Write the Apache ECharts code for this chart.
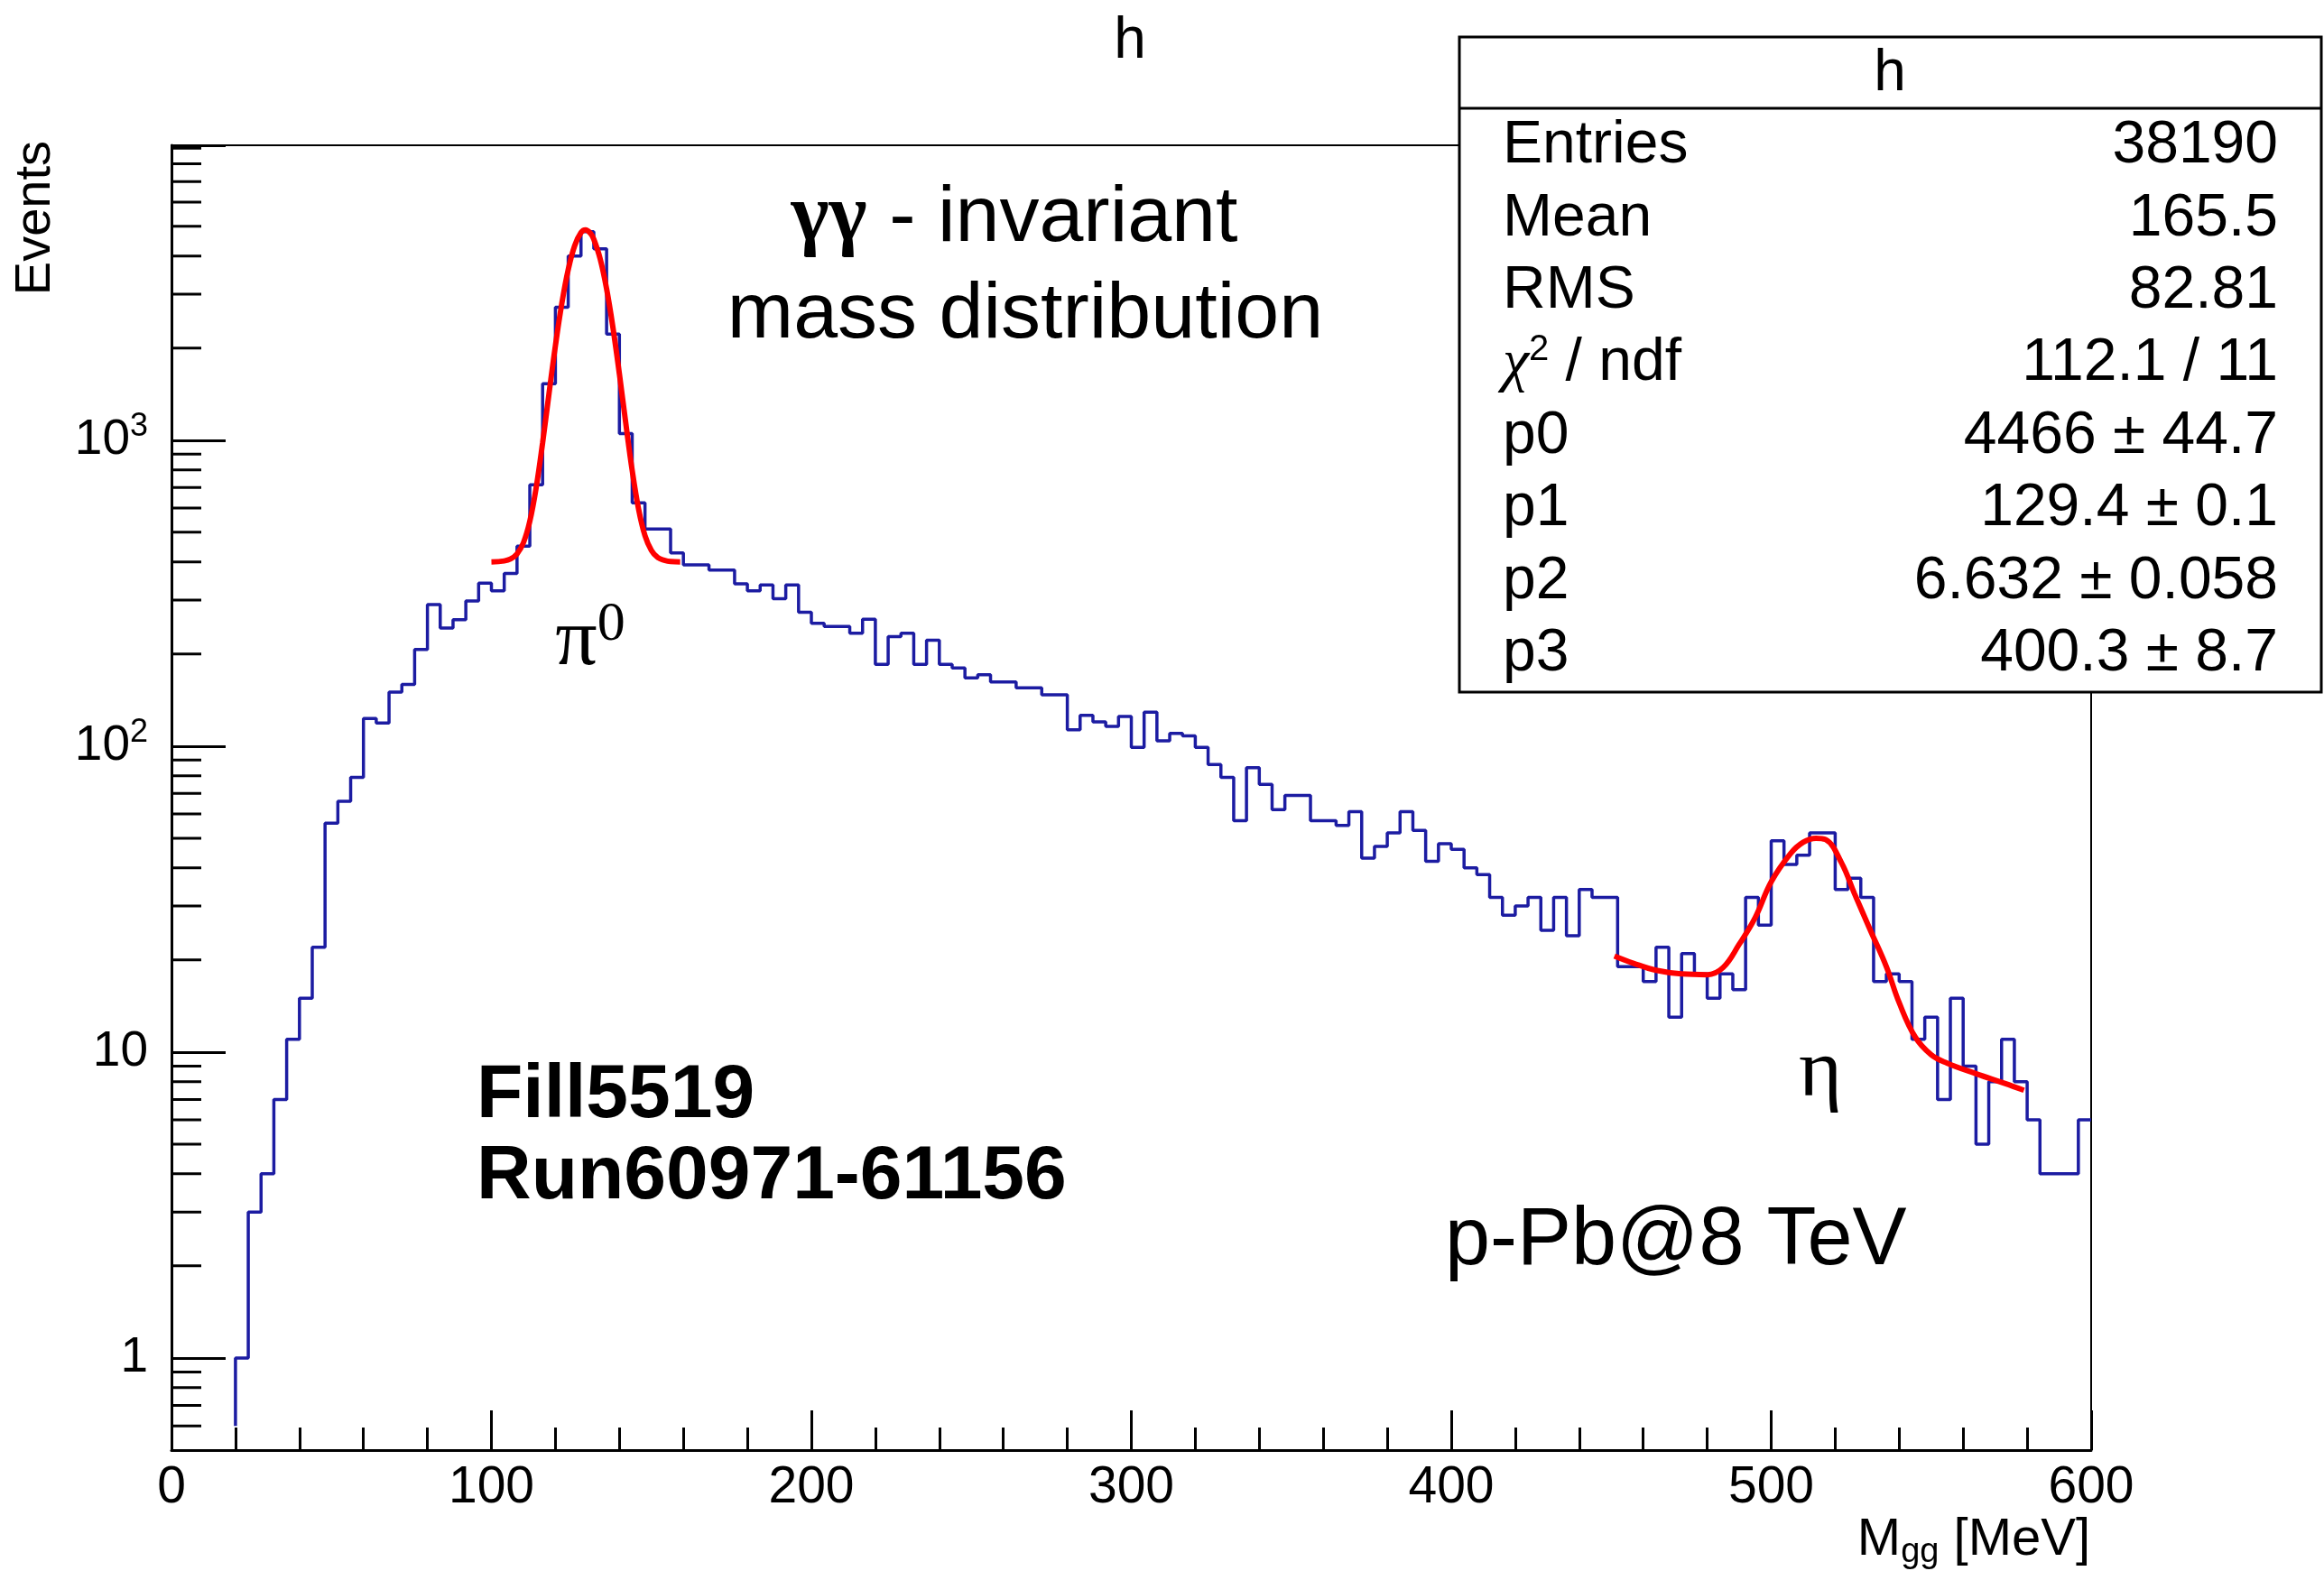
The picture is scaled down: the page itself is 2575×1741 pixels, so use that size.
<!DOCTYPE html>
<html>
<head>
<meta charset="utf-8">
<title>h</title>
<script src="https://cdn.jsdelivr.net/npm/echarts@6/dist/echarts.min.js"></script>
<style>
  html, body { margin: 0; padding: 0; background: #fff; }
  #chart { width: 2575px; height: 1741px; }
</style>
</head>
<body>
<div id="chart"></div>
<script>
// histogram h : 4 MeV bins, first filled bin starts at 20 MeV
var binStart = 20;
var binWidth = 4;
var counts = [
  1, 3, 4, 7, 11, 15, 22, 56, 66, 79, 123, 119, 150, 159, 207, 290, 243, 259, 298, 341,
  322, 367, 450, 715, 1530, 2720, 4000, 4800, 4220, 2220, 1050, 624, 512, 512, 428, 391, 391, 376, 376, 339, 322, 336, 303, 336, 274,
  252, 246, 246, 234, 260, 185, 228, 234, 185, 222, 185, 180, 167, 171, 162, 162, 155, 155, 147, 147, 113, 126, 120, 116, 125,
  99, 129, 104, 110, 108, 99, 87, 79, 57, 85, 75, 62, 69, 69, 57, 57, 55, 61, 43, 47, 52, 61, 53, 42, 48,
  46, 40, 38, 32, 28, 30, 32, 25, 32, 24, 34, 32, 32, 19, 19, 17, 22, 13, 21, 18, 15, 18, 16, 32, 26,
  49, 41, 44, 52, 52, 34, 37, 32, 17, 18, 17, 11, 13, 7, 15, 9, 5, 8, 11, 8, 6, 4, 4, 4, 6
];
var histFloor = 0.6;

// fitted curves (red)
var pi0FitX = [100, 104, 106, 108, 110, 112, 114, 116, 118, 120, 122, 124, 126, 128, 129.4, 131, 132, 134, 136, 138, 140, 142, 144, 146, 148, 150, 152, 154, 156, 159];
var pi0FitY = [400, 403, 409, 425, 462, 543, 701, 980, 1420, 2036, 2796, 3606, 4316, 4768, 4866, 4738, 4536, 3911, 3122, 2326, 1645, 1135, 796, 595, 487, 436, 413, 405, 401, 400];
var etaFitX = [451, 457, 464, 472, 480, 485, 490, 495, 500, 506, 510, 514, 517, 522, 526, 531, 536, 540, 545, 550, 555, 564, 573, 579];
var etaFitY = [20.6, 19.5, 18.5, 18.0, 17.9, 18.9, 22.5, 27.5, 36, 44.5, 48.5, 50, 49.5, 41.5, 33, 25, 19, 14.5, 11.2, 9.8, 9.2, 8.5, 7.9, 7.5];

// minor ticks of the log y axis
var yMinorTicks = [0.6, 0.7, 0.8, 0.9, 2, 3, 4, 5, 6, 7, 8, 9, 20, 30, 40, 50, 60, 70, 80, 90,
  200, 300, 400, 500, 600, 700, 800, 900, 2000, 3000, 4000, 5000, 6000, 7000, 8000, 9000];

// stats box
var statNames = ['Entries', 'Mean', 'RMS', '{c|χ}{s|2}{n| / ndf}', 'p0', 'p1', 'p2', 'p3'];
var statValues = ['38190', '165.5', '82.81', '112.1 / 11', '4466 ± 44.7', '129.4 ± 0.1', '6.632 ± 0.058', '400.3 ± 8.7'];

var SANS = 'Liberation Sans';
var SERIF = 'Liberation Serif';

var histData = [[binStart, histFloor]];
for (var i = 0; i < counts.length; i++) {
  histData.push([binStart + i * binWidth, counts[i]]);
}
histData.push([binStart + counts.length * binWidth, counts[counts.length - 1]]);

var pi0Data = pi0FitX.map(function (x, k) { return [x, pi0FitY[k]]; });
var etaData = etaFitX.map(function (x, k) { return [x, etaFitY[k]]; });
var minorData = yMinorTicks.map(function (v) { return [0, v]; });

var chart = echarts.init(document.getElementById('chart'), null, { renderer: 'canvas' });

var graphics = [];
// title
graphics.push({ type: 'text', x: 1252, y: 46, z: 50,
  style: { text: 'h', fontSize: 64, fontFamily: SANS, fill: '#000', align: 'center', verticalAlign: 'middle' } });
// y axis title
graphics.push({ type: 'text', x: 40, y: 156, rotation: Math.PI / 2, z: 50,
  style: { text: 'Events', fontSize: 56, fontFamily: SANS, fill: '#000', align: 'right', verticalAlign: 'middle' } });
// x axis title
graphics.push({ type: 'text', x: 2316, y: 1707, z: 50,
  style: { text: '{a|M}{b|gg}{a| [MeV]}', align: 'right', verticalAlign: 'middle', fill: '#000',
    rich: { a: { fontSize: 58, fontFamily: SANS }, b: { fontSize: 38, fontFamily: SANS, padding: [28, 0, 0, 0] } } } });
// annotations
graphics.push({ type: 'text', x: 1124, y: 243, z: 50,
  style: { text: '{g|γγ}{t| - invariant}', align: 'center', verticalAlign: 'middle', fill: '#000',
    rich: { g: { fontSize: 90, fontFamily: SERIF, fontWeight: 'bold' }, t: { fontSize: 88, fontFamily: SANS } } } });
graphics.push({ type: 'text', x: 1136, y: 350, z: 50,
  style: { text: 'mass distribution', fontSize: 88, fontFamily: SANS, fill: '#000', align: 'center', verticalAlign: 'middle' } });
graphics.push({ type: 'text', x: 654, y: 712, z: 50,
  style: { text: '{p|π}{s|0}', align: 'center', verticalAlign: 'middle', fill: '#000',
    rich: { p: { fontSize: 92, fontFamily: SERIF }, s: { fontSize: 62, fontFamily: SERIF, padding: [0, 0, 38, 0] } } } });
graphics.push({ type: 'text', x: 2017, y: 1190, z: 50,
  style: { text: 'η', fontSize: 92, fontFamily: SERIF, fill: '#000', align: 'center', verticalAlign: 'middle' } });
graphics.push({ type: 'text', x: 528, y: 1215, z: 50,
  style: { text: 'Fill5519', fontSize: 84, fontWeight: 'bold', fontFamily: SANS, fill: '#000', align: 'left', verticalAlign: 'middle' } });
graphics.push({ type: 'text', x: 528, y: 1305, z: 50,
  style: { text: 'Run60971-61156', fontSize: 84, fontWeight: 'bold', fontFamily: SANS, fill: '#000', align: 'left', verticalAlign: 'middle' } });
graphics.push({ type: 'text', x: 1601, y: 1376, z: 50,
  style: { text: 'p-Pb@8 TeV', fontSize: 90, fontFamily: SANS, fill: '#000', align: 'left', verticalAlign: 'middle' } });

// stats box
graphics.push({ type: 'rect', z: 60, shape: { x: 1617, y: 41, width: 955, height: 726 },
  style: { fill: '#fff', stroke: '#000', lineWidth: 3 } });
graphics.push({ type: 'line', z: 61, shape: { x1: 1617, y1: 120, x2: 2572, y2: 120 },
  style: { stroke: '#000', lineWidth: 3 } });
graphics.push({ type: 'text', x: 2094, y: 82, z: 62,
  style: { text: 'h', fontSize: 64, fontFamily: SANS, fill: '#000', align: 'center', verticalAlign: 'middle' } });
for (var r = 0; r < statNames.length; r++) {
  var ry = 162 + r * 80.4;
  graphics.push({ type: 'text', x: 1665, y: ry, z: 62,
    style: { text: statNames[r], fontSize: 66, fontFamily: SANS, fill: '#000', align: 'left', verticalAlign: 'middle',
      rich: { c: { fontSize: 66, fontFamily: SERIF, fontStyle: 'italic' }, s: { fontSize: 40, fontFamily: SANS, padding: [0, 0, 30, 0] },
        n: { fontSize: 66, fontFamily: SANS } } } });
  graphics.push({ type: 'text', x: 2524, y: ry, z: 62,
    style: { text: statValues[r], fontSize: 66, fontFamily: SANS, fill: '#000', align: 'right', verticalAlign: 'middle' } });
}

var option = {
  backgroundColor: '#fff',
  animation: false,
  grid: { left: 190, top: 161, width: 2127, height: 1446, show: true, borderColor: '#000', borderWidth: 2, backgroundColor: 'transparent' },
  xAxis: {
    type: 'value', min: 0, max: 600, interval: 100,
    axisLine: { show: true, onZero: false, lineStyle: { color: '#000', width: 3 } },
    axisTick: { show: true, inside: true, length: 44, lineStyle: { color: '#000', width: 3 } },
    minorTick: { show: true, splitNumber: 5, length: 25, lineStyle: { color: '#000', width: 3 } },
    splitLine: { show: false },
    axisLabel: { color: '#000', fontSize: 57, fontFamily: SANS, margin: 14 }
  },
  yAxis: {
    type: 'log', logBase: 10, min: 0.5, max: 9200,
    axisLine: { show: true, lineStyle: { color: '#000', width: 3 } },
    axisTick: { show: true, inside: true, length: 60, lineStyle: { color: '#000', width: 3 } },
    splitLine: { show: false },
    axisLabel: {
      color: '#000', margin: 26,
      formatter: function (v) {
        var e = Math.round(Math.log10(v));
        if (Math.abs(v - Math.pow(10, e)) > 1e-6 * v) return '';
        if (e === 0) return '{b|1}';
        if (e === 1) return '{b|10}';
        return '{b|10}{s|' + e + '}';
      },
      rich: {
        b: { fontSize: 55, fontFamily: SANS, color: '#000' },
        s: { fontSize: 36, fontFamily: SANS, color: '#000', padding: [0, 0, 30, 0] }
      }
    }
  },
  graphic: graphics,
  series: [
    {
      type: 'custom', name: 'minor ticks', silent: true, z: 1,
      renderItem: function (params, api) {
        var p = api.coord([0, api.value(1)]);
        return { type: 'line', shape: { x1: p[0], y1: p[1], x2: p[0] + 33, y2: p[1] },
          style: { stroke: '#000', lineWidth: 3 } };
      },
      data: minorData
    },
    {
      type: 'line', name: 'h', step: 'end', data: histData, showSymbol: false, z: 3,
      lineStyle: { color: '#1c1ca2', width: 3.5 }
    },
    {
      type: 'line', name: 'pi0 fit', data: pi0Data, smooth: 0.4, showSymbol: false, z: 4,
      lineStyle: { color: '#ff0000', width: 6 }
    },
    {
      type: 'line', name: 'eta fit', data: etaData, smooth: 0.4, showSymbol: false, z: 4,
      lineStyle: { color: '#ff0000', width: 6 }
    }
  ]
};
chart.setOption(option);
window.addEventListener('resize', chart.resize);
</script>
</body>
</html>
